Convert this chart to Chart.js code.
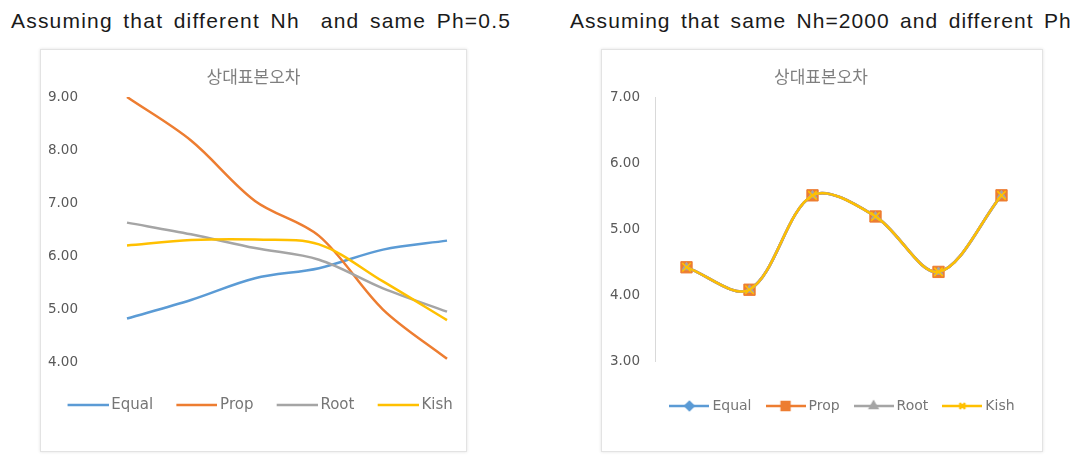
<!DOCTYPE html>
<html lang="ko">
<head>
<meta charset="UTF-8">
<title>상대표본오차</title>
<style>
  * { margin: 0; padding: 0; box-sizing: border-box; }
  body { width: 1086px; height: 467px; background: #fff; position: relative; overflow: hidden; font-family: 'Liberation Sans', Arial, sans-serif; }
  .caption { position: absolute; top: 10px; font-size: 21px; line-height: 21px; color: #1a1a1a; letter-spacing: 1.2px; word-spacing: 3.5px; white-space: pre; }
  .box { position: absolute; top: 49px; height: 403px; border: 1px solid #e3e3e3; box-shadow: 0 0 3px rgba(0,0,0,0.12); background: #fff; }
  .box canvas { display: block; }
</style>
</head>
<body>
<div class="caption" style="left:11px">Assuming that different Nh  and same Ph=0.5</div>
<div class="caption" style="left:570px;letter-spacing:1.05px">Assuming that same Nh=2000 and different Ph</div>
<div class="box" style="left:40px;width:427px"><canvas id="left" width="425" height="401"></canvas></div>
<div class="box" style="left:601px;width:442px"><canvas id="right" width="440" height="401"></canvas></div>

<script src="https://cdn.jsdelivr.net/npm/chart.js"></script>
<script>
  // categories (not labelled on the axis in the original)
  const categories = ['1', '2', '3', '4', '5', '6'];
  const seriesNames = ['Equal', 'Prop', 'Root', 'Kish'];
  const seriesColors = ['#5B9BD5', '#ED7D31', '#A5A5A5', '#FFC000'];

  // left: different Nh, same Ph = 0.5
  const leftEqual = [4.82, 5.17, 5.58, 5.77, 6.12, 6.29];
  const leftProp  = [9.00, 8.18, 7.04, 6.38, 4.99, 4.06];
  const leftRoot  = [6.63, 6.41, 6.15, 5.93, 5.39, 4.95];
  const leftKish  = [6.20, 6.30, 6.31, 6.22, 5.52, 4.79];
  const leftTicks = [4, 5, 6, 7, 8, 9];

  // right: same Nh = 2000, different Ph (the four series coincide)
  const rightEqual = [4.42, 4.08, 5.51, 5.19, 4.35, 5.51];
  const rightProp  = [4.42, 4.08, 5.51, 5.19, 4.35, 5.51];
  const rightRoot  = [4.42, 4.08, 5.51, 5.19, 4.35, 5.51];
  const rightKish  = [4.42, 4.08, 5.51, 5.19, 4.35, 5.51];
  const rightTicks = [3, 4, 5, 6, 7];
  const rightMarkers = ['rectRot', 'rect', 'triangle', 'crossRot'];

  const chartTitle = '상대표본오차';

  Chart.defaults.font.family = "'DejaVu Sans', sans-serif";
  Chart.defaults.animation = false;

  // little line (+ marker) pictures used as legend symbols
  function legendImg(width, lineStart, color, marker) {
    const c = document.createElement('canvas');
    c.width = width; c.height = 14;
    const g = c.getContext('2d');
    g.strokeStyle = color; g.lineWidth = 2.5;
    g.beginPath(); g.moveTo(lineStart, 7); g.lineTo(width, 7); g.stroke();
    if (marker) {
      g.fillStyle = color; g.strokeStyle = color;
      Chart.helpers.drawPoint(g, { pointStyle: marker, radius: marker === 'rect' ? 5.5 : 4, borderWidth: 1.2 }, (lineStart + width) / 2, 7);
    }
    return c;
  }

  function legendOpts(size, boxW, pad, imgs, fullSize) {
    return {
      position: 'bottom',
      fullSize: fullSize,
      labels: {
        usePointStyle: true,
        pointStyleWidth: boxW,
        padding: pad,
        color: '#767676',
        font: { size: size },
        sort: (a, b) => a.datasetIndex - b.datasetIndex,
        generateLabels: chart => Chart.defaults.plugins.legend.labels.generateLabels(chart).map(item => {
          item.pointStyle = imgs[item.datasetIndex];
          return item;
        })
      }
    };
  }

  const titleOpts = {
    display: true,
    text: chartTitle,
    color: '#7f7f7f',
    font: { family: "'Noto Sans CJK KR', sans-serif", size: 17, weight: 'normal' },
    padding: { top: 16.8, bottom: 9.8 }
  };

  function tickLabel(v) { return v.toFixed(2); }

  // fixed axis width; the big label gap must not push the plot down
  function yFit(width) {
    return s => { s.width = width; s.paddingTop = 0; s.paddingBottom = 0; };
  }

  // ---- left chart
  const leftValues = [leftEqual, leftProp, leftRoot, leftKish];
  const leftImgs = seriesColors.map(c => legendImg(59, 18, c, null));

  new Chart(document.getElementById('left'), {
    type: 'line',
    data: {
      labels: categories,
      datasets: leftValues.map((vals, i) => ({
        label: seriesNames[i],
        data: vals,
        borderColor: seriesColors[i],
        backgroundColor: seriesColors[i],
        borderWidth: 2.5,
        pointRadius: 0,
        tension: 0.33,
        order: 4 - i
      }))
    },
    options: {
      responsive: false,
      layout: { padding: { left: 0, right: 0, top: 0, bottom: 28.5 } },
      plugins: {
        title: titleOpts,
        legend: legendOpts(15, 49.5, 10, leftImgs, true),
        tooltip: { enabled: false }
      },
      scales: {
        x: {
          offset: false,
          ticks: { display: false },
          grid: { display: false, drawTicks: false },
          border: { display: false },
          afterFit: s => { s.height = 25.5; }
        },
        y: {
          min: leftTicks[0], max: leftTicks[leftTicks.length - 1],
          afterBuildTicks: s => { s.ticks = leftTicks.map(v => ({ value: v })); },
          ticks: { callback: tickLabel, color: '#595959', font: { size: 13.5 }, padding: 49 },
          grid: { display: false, drawTicks: false },
          border: { display: false },
          afterFit: yFit(86)
        },
        spare: {
          position: 'right',
          ticks: { display: false },
          grid: { display: false, drawTicks: false },
          border: { display: false },
          afterFit: s => { s.width = 19; }
        }
      }
    }
  });

  // ---- right chart
  const rightValues = [rightEqual, rightProp, rightRoot, rightKish];
  const rightImgs = seriesColors.map((c, i) => legendImg(40, 0, c, rightMarkers[i]));
  const rightRadius = [4.5, 8, 5, 6];

  new Chart(document.getElementById('right'), {
    type: 'line',
    data: {
      labels: categories,
      datasets: rightValues.map((vals, i) => ({
        label: seriesNames[i],
        data: vals,
        borderColor: seriesColors[i],
        backgroundColor: seriesColors[i],
        borderWidth: i === 3 ? 2.25 : 2.75,
        pointStyle: rightMarkers[i],
        pointRadius: rightRadius[i],
        pointBorderWidth: i === 3 ? 1.6 : 1,
        pointBackgroundColor: seriesColors[i],
        pointBorderColor: seriesColors[i],
        tension: 0.33,
        order: 4 - i
      }))
    },
    options: {
      responsive: false,
      layout: { padding: { left: 0, right: 2, top: 0, bottom: 28 } },
      plugins: {
        title: titleOpts,
        legend: legendOpts(14, 32, 18, rightImgs, false),
        tooltip: { enabled: false }
      },
      scales: {
        x: {
          offset: true,
          ticks: { display: false },
          grid: { display: false, drawTicks: false },
          border: { display: false },
          afterFit: s => { s.height = 20; }
        },
        y: {
          min: rightTicks[0], max: rightTicks[rightTicks.length - 1],
          afterBuildTicks: s => { s.ticks = rightTicks.map(v => ({ value: v })); },
          ticks: { callback: tickLabel, color: '#595959', font: { size: 13.5 }, padding: 15 },
          grid: { display: false, drawTicks: false },
          border: { display: true, color: '#d9d9d9', width: 1 },
          afterFit: yFit(53)
        }
      }
    }
  });
</script>
</body>
</html>
